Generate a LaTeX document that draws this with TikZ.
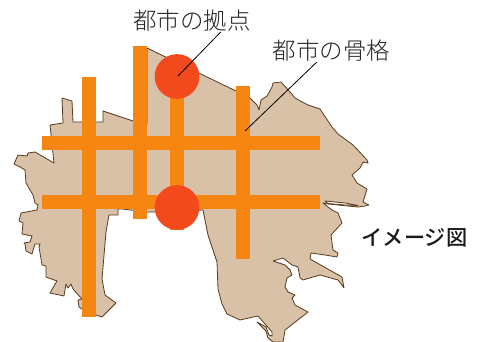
\documentclass[tikz,border=0pt]{standalone}
\usepackage{fontspec}
\setmainfont{Noto Sans CJK JP}
\newfontfamily\thinjp{Noto Sans CJK JP Light}
\newfontfamily\midjp{Noto Sans CJK JP Medium}
\definecolor{landtan}{HTML}{D8C1A6}
\definecolor{landedge}{HTML}{5A3A1E}
\definecolor{barorange}{HTML}{F58612}
\definecolor{hubred}{HTML}{F24A1C}
\tikzset{
	land/.style={fill=landtan,draw=landedge,line width=0.6pt,line join=round},
	bar/.style={fill=barorange},
	hub/.style={circle,fill=hubred,minimum size=33.5pt,inner sep=0pt},
	leader/.style={draw=black,line width=0.6pt},
	biglabel/.style={inner sep=0pt,text=black!85,font=\thinjp\fontsize{17.6}{21}\selectfont},
	boldlabel/.style={inner sep=0pt,text=black!90,font=\midjp\fontsize{15.9}{19}\selectfont}
}
\begin{document}
\begin{tikzpicture}[x=0.75pt,y=-0.75pt]
		\useasboundingbox (0,0) rectangle (478,342);
		
		\fill[white] (0,0) rectangle (478,342);
		
		\begin{scope}
		\clip (0,0) rectangle (478,342);
		\draw[land] (147,48) -- (236,91) -- (250,98) -- (257,105) -- (259,110) -- (261,100) -- (267,96) -- (272,87) -- (273,83) -- (281,82)
			-- (290,92) -- (295,98) -- (308,105) -- (320,109) -- (332,127) -- (338,134) -- (353,145) -- (367,160) -- (368,163) -- (363,162)
			-- (360,168) -- (352,175) -- (357,183) -- (367,189) -- (363,202) -- (369,205) -- (365,206) -- (358,207) -- (328,204) -- (323,203)
			-- (332,210) -- (338,213) -- (342,223) -- (331,235) -- (333,250) -- (338,253) -- (337,257) -- (325,255) -- (311,253) -- (310,259)
			-- (342,277) -- (344,288) -- (342,285) -- (338,280) -- (320,275) -- (313,277) -- (303,280) -- (300,278) -- (298,267) -- (292,265)
			-- (283,258) -- (273,261) -- (285,265) -- (290,270) -- (292,275) -- (287,278) -- (285,287) -- (288,292) -- (295,295) -- (292,298)
			-- (295,305) -- (308,312) -- (285,330) -- (283,342) -- (273,342) -- (268,338) -- (266,331) -- (257,322) -- (266,327) -- (269,335)
			-- (272,336) -- (272,332) -- (258,316) -- (240,320) -- (227,314) -- (222,304) -- (218,289) -- (217,262) -- (208,235) -- (203,210)
			-- (155,212) -- (147,212) -- (122,209) -- (118,209) -- (118,215) -- (109,215) -- (106,232) -- (102,279) -- (105,295) -- (116,303)
			-- (110,309) -- (102,317) -- (96,315) -- (82,309) -- (79,307) -- (78,300) -- (82,299) -- (73,289) -- (71,284) -- (68,288) -- (66,284)
			-- (64,296) -- (50,293) -- (57,281) -- (46,277) -- (46,266) -- (42,265) -- (39,247) -- (40,244) -- (35,244) -- (32,254) -- (26,251)
			-- (25,244) -- (24,243) -- (30,242) -- (32,236) -- (22,234) -- (23,223) -- (19,221) -- (21,213) -- (37,210) -- (38,205) -- (35,203)
			-- (33,195) -- (26,183) -- (25,170) -- (20,167) -- (14,164) -- (18,155) -- (27,156) -- (28,153) -- (35,152) -- (54,163) -- (50,125)
			-- (63,123) -- (62,98) -- (72,101) -- (73,122) -- (103,122) -- (103,111) -- (133,121) -- (147,124) -- cycle;
		\end{scope}
		\draw[land,fill=white] (325,201) -- (345,203) -- (358,205.5) -- (345,205) -- (328,203.5) -- cycle;
		
		\foreach \x/\ya/\yb in {82/77/317,133/46/219,170/70/230,236/86/259}
			\fill[bar] (\x,\ya) rectangle (\x+14,\yb);
		\foreach \y in {136,195}
			\fill[bar] (42,\y) rectangle (320,\y+14);
		
		\node[hub] (hubnorth) at (177,76.5) {};
		\node[hub] (hubsouth) at (177,207.5) {};
		
		\node[biglabel] (hublabel) at (192,21) {都市の拠点};
		\node[biglabel] (framelabel) at (331.5,51) {都市の骨格};
		\node[boldlabel] (imagelabel) at (414.5,238) {イメージ図};
		
		\coordinate (hubtip) at (178,76);
		\coordinate (frametip) at (245,131);
		\draw[leader] ([xshift=21.5pt]hublabel.south) -- (hubtip);
		\draw[leader] ([xshift=-11pt]framelabel.south) -- (frametip);
		\end{tikzpicture}
\end{document}
